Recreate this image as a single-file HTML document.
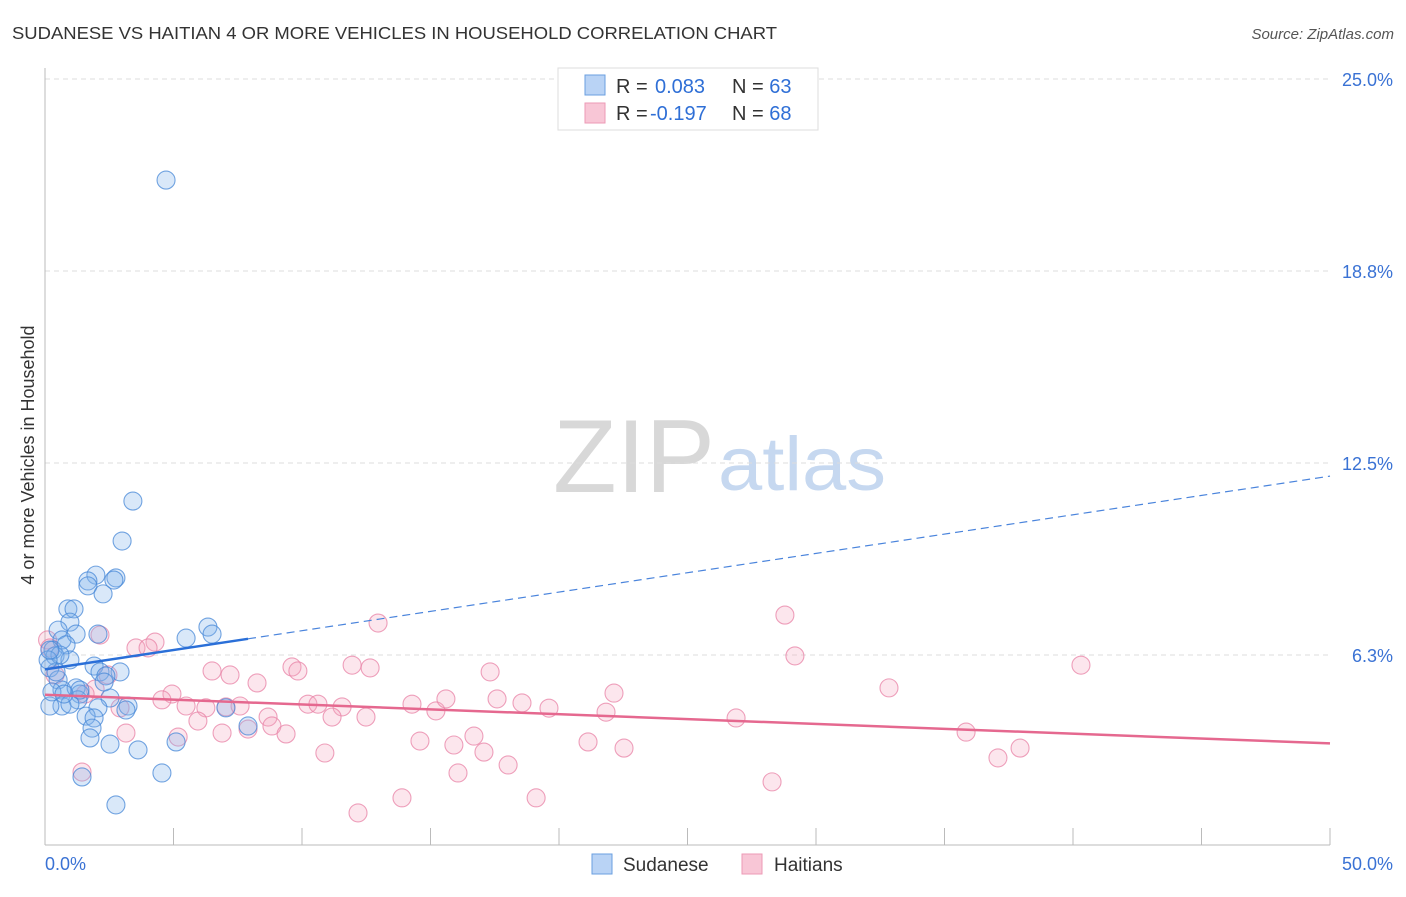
<!DOCTYPE html>
<html><head><meta charset="utf-8"><style>
body{margin:0;background:#fff;font-family:"Liberation Sans",sans-serif;}
svg text{font-family:"Liberation Sans",sans-serif;}
</style></head><body>
<svg id="chart" width="1406" height="892" xmlns="http://www.w3.org/2000/svg">
<text x="12" y="39" font-size="17.5" fill="#333" textLength="765" lengthAdjust="spacingAndGlyphs">SUDANESE VS HAITIAN 4 OR MORE VEHICLES IN HOUSEHOLD CORRELATION CHART</text>
<text x="1394" y="39" font-size="15" fill="#555" font-style="italic" text-anchor="end">Source: ZipAtlas.com</text>
<g>
<text x="553" y="492" font-size="104" fill="#d8d8d8" font-family="Liberation Serif" textLength="162" lengthAdjust="spacingAndGlyphs">ZIP</text>
<text x="718" y="490" font-size="76" fill="#c6d8f0" textLength="168" lengthAdjust="spacingAndGlyphs">atlas</text>
</g>
<g id="grid"></g>
<g id="axes"></g>
<g id="marks"></g>
<text transform="translate(34,455) rotate(-90)" font-size="18" fill="#333" text-anchor="middle">4 or more Vehicles in Household</text>
<g>
<rect x="558" y="68" width="260" height="62" fill="#fff" stroke="#ddd"/>
<rect x="585" y="75" width="20" height="20" fill="#b9d3f5" stroke="#6a9fe0"/>
<text x="616" y="93" font-size="20" fill="#333">R = </text>
<text x="655" y="93" font-size="20" fill="#2f6fd6">0.083</text>
<text x="732" y="93" font-size="20" fill="#333">N = <tspan fill="#2f6fd6">63</tspan></text>
<rect x="585" y="103" width="20" height="20" fill="#f8c6d6" stroke="#ec9ab6"/>
<text x="616" y="120" font-size="20" fill="#333">R = </text>
<text x="650" y="120" font-size="20" fill="#2f6fd6">-0.197</text>
<text x="732" y="120" font-size="20" fill="#333">N = <tspan fill="#2f6fd6">68</tspan></text>
</g>
<g>
<rect x="592" y="854" width="20" height="20" fill="#b9d3f5" stroke="#6a9fe0"/>
<text x="623" y="871" font-size="19" fill="#333">Sudanese</text>
<rect x="742" y="854" width="20" height="20" fill="#f8c6d6" stroke="#ec9ab6"/>
<text x="774" y="871" font-size="19" fill="#333">Haitians</text>
</g>
</svg>
<script>
const yTicks=[6.25,12.5,18.75,25];
const yTickLabels=["6.3%","12.5%","18.8%","25.0%"];
const xTickLabels=["0.0%","50.0%"];
const sudX=[4.71,3.42,3.00,1.98,1.67,2.76,1.67,2.68,2.26,0.89,1.13,0.97,2.06,0.51,6.34,5.49,6.50,0.66,1.21,0.31,0.82,0.39,0.97,1.91,2.92,2.14,2.37,0.19,0.51,0.66,1.21,1.36,2.53,1.28,2.06,3.23,3.15,7.04,0.66,0.19,1.60,1.91,1.83,1.75,2.53,3.62,5.10,7.90,4.55,1.44,2.76,0.58,0.43,0.27,0.97,1.36,2.30,0.74,0.12,0.19];
const sudY=[21.71,11.26,9.96,8.85,8.66,8.76,8.50,8.69,8.24,7.75,7.75,7.32,6.93,7.06,7.16,6.80,6.93,6.74,6.93,6.41,6.58,6.22,6.09,5.89,5.70,5.70,5.57,5.83,5.44,5.11,5.18,4.98,4.85,4.79,4.53,4.59,4.46,4.53,4.59,4.59,4.26,4.20,3.87,3.55,3.35,3.16,3.42,3.94,2.41,2.28,1.37,6.25,5.70,5.05,4.65,5.11,5.37,4.98,6.09,6.41];
const haiX=[12.96,28.79,4.28,3.54,4.01,2.14,0.1,6.50,7.20,9.61,9.84,11.95,12.65,17.32,29.18,40.31,32.84,22.14,17.59,18.56,19.61,21.83,26.89,14.28,15.21,15.60,10.23,10.62,11.56,11.17,12.49,4.94,4.55,5.49,6.26,7.04,7.59,8.25,8.68,8.83,9.38,5.95,6.89,5.18,7.90,14.59,15.91,16.69,17.08,18.02,21.13,22.53,35.84,37.94,37.08,10.89,16.07,28.29,19.11,13.89,12.18,1.44,3.15,2.92,1.95,2.45,1.56,0.39,0.19];
const haiY=[7.29,7.55,6.67,6.48,6.48,6.90,6.74,5.73,5.60,5.86,5.73,5.92,5.83,5.70,6.22,5.92,5.18,5.01,4.82,4.69,4.52,4.39,4.20,4.65,4.43,4.82,4.65,4.65,4.56,4.23,4.23,4.98,4.79,4.59,4.53,4.56,4.59,5.34,4.23,3.94,3.68,4.10,3.71,3.58,3.84,3.45,3.32,3.61,3.09,2.67,3.42,3.22,3.74,3.22,2.90,3.06,2.41,2.12,1.60,1.60,1.11,2.44,3.71,4.53,5.14,5.60,4.98,5.60,6.48];
const NS="http://www.w3.org/2000/svg";
const X0=45,X1=1330,YB=847,PXPER=192/6.25;
function sx(v){return X0+(v/50)*(X1-X0);}
function sy(v){return YB-v*PXPER;}
function mk(tag,attrs,parent){const e=document.createElementNS(NS,tag);for(const k in attrs)e.setAttribute(k,attrs[k]);parent.appendChild(e);return e;}
const grid=document.getElementById('grid'),axes=document.getElementById('axes'),marks=document.getElementById('marks');
yTicks.forEach((t,i)=>{
 const l=mk('line',{x1:X0,x2:X1,y1:sy(t),y2:sy(t),stroke:'#ddd','stroke-dasharray':'5,4'},grid);
 
 
 const tx=mk('text',{x:1393,y:sy(t)+7,'font-size':18,fill:'#3a72d4','text-anchor':'end'},axes);
 tx.textContent=yTickLabels[i];
 
 
});
let a=mk('line',{x1:X0,x2:X0,y1:68,y2:845,stroke:'#bbb'},axes);


a=mk('line',{x1:X0,x2:X1,y1:845,y2:845,stroke:'#bbb'},axes);


for(let i=0;i<=10;i++){
 const t=mk('line',{x1:sx(i*5),x2:sx(i*5),y1:828,y2:845,stroke:'#bbb'},axes);
 
 
}
let xl=mk('text',{x:45,y:870,'font-size':18,fill:'#3a72d4'},axes);xl.textContent=xTickLabels[0];


xl=mk('text',{x:1393,y:870,'font-size':18,fill:'#3a72d4','text-anchor':'end'},axes);xl.textContent=xTickLabels[1];


function fit(xs,ys){const n=xs.length;let mx=0,my=0;for(let i=0;i<n;i++){mx+=xs[i];my+=ys[i];}mx/=n;my/=n;let sxy=0,sxx=0;for(let i=0;i<n;i++){sxy+=(xs[i]-mx)*(ys[i]-my);sxx+=(xs[i]-mx)**2;}const b=sxy/sxx;return [my-b*mx,b];}
function pts(xs,ys,fill,stroke,name){
 xs.forEach((x,i)=>{
  const c=mk('circle',{cx:sx(x),cy:sy(ys[i]),r:9,fill:fill,stroke:stroke,'stroke-width':1.1},marks);
  
  
 });
}
pts(haiX,haiY,'rgba(244,165,192,0.28)','rgba(232,130,165,0.75)','haitians-point');
pts(sudX,sudY,'rgba(130,178,235,0.3)','rgba(70,135,215,0.75)','sudanese-point');
const [ha,hb]=fit(haiX,haiY);
let ln=mk('line',{x1:sx(0),y1:sy(ha),x2:sx(50),y2:sy(ha+hb*50),stroke:'#e5688f','stroke-width':2.5},marks);


const [sa,sb]=fit(sudX,sudY);const smax=Math.max(...sudX);
ln=mk('line',{x1:sx(0),y1:sy(sa),x2:sx(smax),y2:sy(sa+sb*smax),stroke:'#2a6fd8','stroke-width':2.5},marks);


ln=mk('line',{x1:sx(smax),y1:sy(sa+sb*smax),x2:sx(50),y2:sy(sa+sb*50),stroke:'#4a84dc','stroke-width':1.2,'stroke-dasharray':'8,5'},marks);


</script>
</body></html>
